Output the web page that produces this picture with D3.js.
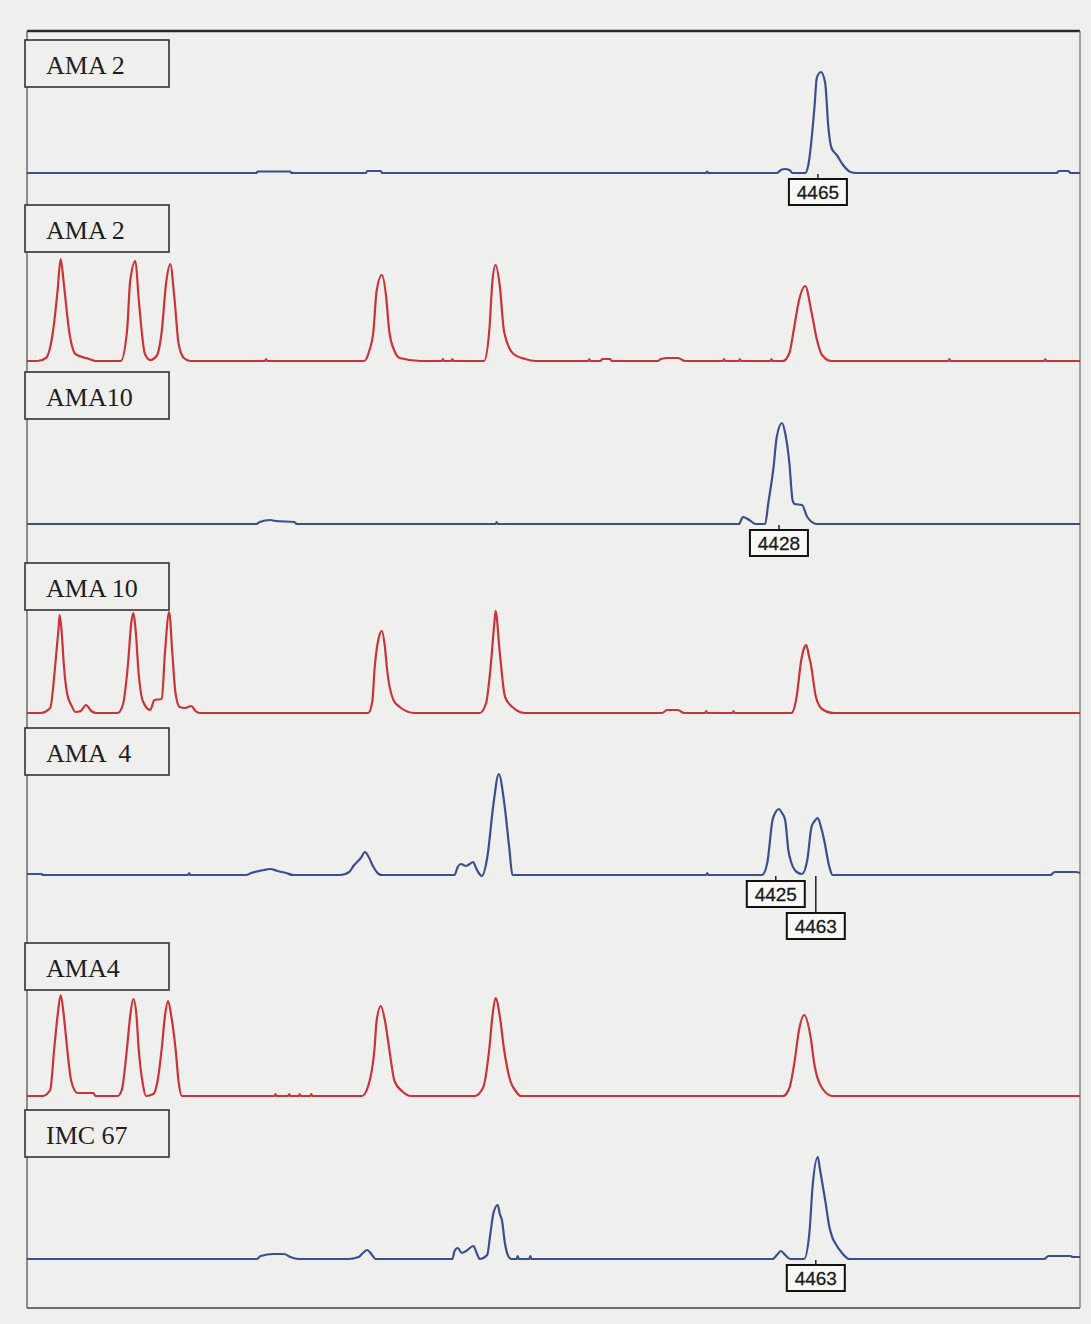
<!DOCTYPE html>
<html>
<head>
<meta charset="utf-8">
<title>Espectros MALDI</title>
<script src="https://cdn.jsdelivr.net/npm/d3@7"></script>
<style>
  html, body { margin: 0; padding: 0; background: #efefed; }
  svg { display: block; }
</style>
</head>
<body>
<svg id="grafico" width="1091" height="1324"></svg>
<script>
/* DATOS: masa (Da) e intensidad relativa de cada traza */
const rangoMasas = [3712, 4712]
const nombresMuestras = ["AMA 2", "AMA 2", "AMA10", "AMA 10", "AMA  4", "AMA4", "IMC 67"]
const tiposTraza = ["muestra", "marcador", "muestra", "marcador", "muestra", "marcador", "muestra"]

const trazaAMA2 = [[3712,0],[3930,0],[3931,1.5],[3962,1.5],[3963,0],[4034,0],[4035,2],[4048,2],[4049,0],
  [4357,0],[4358,1.5],[4359,0],[4424,0],[4428,3],[4432,4],[4436,3],[4439,0],[4451,0],[4454,8],[4460,68],
  [4462,95],[4466,101],[4470,90],[4473,46],[4476,25],[4481,18],[4487,8],[4494,1],[4500,0],
  [4690,0],[4692,2],[4701,2],[4703,0],[4712,0]]

const marcadorAMA2 = [[3712,0],[3722,0],[3730,3],[3737,32],[3741,70],[3744,102],[3747,77],[3752,30],[3758,7],[3771,2],[3777,0],
  [3801,0],[3807,30],[3810,80],[3815,100],[3818,63],[3824,7],[3829,1],
  [3835,5],[3840,30],[3844,77],[3848,97],[3852,63],[3856,17],[3861,3],[3867,0],
  [3938,0],[3939,2],[3940,0],
  [4032,0],[4037,10],[4041,30],[4044,70],[4049,86],[4053,65],[4056,30],[4061,10],[4066,3],[4086,0],
  [4106,0],[4107,2],[4108,0],[4115,0],[4116,2],[4117,0],
  [4146,0],[4151,30],[4154,80],[4157,96],[4161,75],[4165,30],[4174,7],[4185,2],[4195,0],
  [4245,0],[4246,2],[4247,0],[4257,0],[4258,2],[4266,2],[4267,0],
  [4311,0],[4314,2],[4321,3],[4330,3],[4337,0],
  [4373,0],[4374,2],[4375,0],[4388,0],[4389,2],[4390,0],[4418,0],[4419,2],[4420,0],
  [4430,0],[4436,8],[4440,30],[4445,60],[4451,75],[4457,49],[4462,22],[4467,6],[4476,0],
  [4587,0],[4588,2],[4589,0],[4678,0],[4679,2],[4680,0],[4712,0]]

const trazaAMA10 = [[3712,0],[3930,0],[3933,2],[3943,4],[3948,3],[3966,2],[3968,0],[4157,0],[4158,2],[4159,0],
  [4388,0],[4392,7],[4398,4],[4404,0],[4413,0],[4416,21],[4421,57],[4424,87],[4429,101],[4432,91],[4436,61],
  [4439,24],[4441,20],[4448,19],[4453,7],[4462,0],[4712,0]]

const marcadorAMA10 = [[3712,0],[3725,0],[3734,5],[3739,50],[3742,85],[3743,98],[3745,80],[3747,48],[3750,20],[3754,8],[3758,1],
  [3763,2],[3768,8],[3773,2],[3778,0],
  [3798,0],[3803,8],[3808,50],[3811,90],[3813,100],[3815,85],[3818,40],[3822,12],[3829,3],[3833,13],[3840,14],
  [3843,60],[3847,101],[3850,60],[3853,20],[3857,6],[3862,5],[3868,7],[3872,2],[3876,0],
  [4036,0],[4040,12],[4042,43],[4046,75],[4049,82],[4052,65],[4054,43],[4060,13],[4066,6],[4080,0],
  [4142,0],[4148,10],[4152,43],[4156,92],[4157,102],[4161,60],[4166,16],[4173,6],[4185,0],
  [4315,0],[4320,3],[4330,3],[4336,0],[4356,0],[4357,2],[4358,0],[4382,0],[4383,2],[4384,0],
  [4438,0],[4443,17],[4447,51],[4450,65],[4452,68],[4455,55],[4456,51],[4461,17],[4467,4],[4478,0],[4712,0]]

const trazaAMA4 = [[3712,1],[3726,1],[3727,0],[3865,0],[3866,2],[3867,0],
  [3920,0],[3925,2],[3937,5],[3943,6],[3950,4],[3958,2],[3965,0],
  [4010,0],[4018,3],[4022,9],[4029,17],[4033,23],[4036,19],[4041,8],[4046,1],[4049,0],
  [4118,0],[4121,8],[4124,11],[4129,9],[4131,10],[4136,13],[4138,8],[4141,2],[4144,-1],
  [4149,17],[4155,71],[4160,101],[4165,74],[4170,27],[4173,0],
  [4357,0],[4358,2],[4359,0],
  [4410,0],[4415,12],[4420,55],[4423,63],[4426,66],[4429,62],[4432,55],[4435,25],[4438,12],[4443,3],[4448,1],
  [4453,15],[4457,48],[4460,54],[4463,57],[4466,48],[4469,35],[4474,8],[4477,0],
  [4684,0],[4688,3],[4708,3],[4712,2]]

const marcadorAMA4 = [[3712,0],[3727,0],[3734,6],[3738,49],[3741,80],[3744,101],[3747,80],[3750,49],[3754,15],[3760,3],[3764,3],[3775,3],[3777,0],
  [3798,0],[3802,6],[3807,48],[3810,80],[3813,97],[3816,80],[3818,48],[3822,12],[3825,0],
  [3832,2],[3836,15],[3840,48],[3843,80],[3846,95],[3849,80],[3853,48],[3856,14],[3859,0],
  [3947,0],[3948,2],[3949,0],[3960,0],[3961,2],[3962,0],[3970,0],[3971,2],[3972,0],[3981,0],[3982,2],[3983,0],
  [4030,0],[4036,10],[4042,47],[4044,75],[4048,90],[4052,75],[4056,47],[4061,15],[4068,5],[4077,0],
  [4137,0],[4145,8],[4151,47],[4154,80],[4157,98],[4161,80],[4165,47],[4171,15],[4176,5],[4181,0],
  [4430,0],[4436,8],[4441,35],[4445,65],[4450,81],[4456,60],[4460,30],[4467,8],[4477,0],[4712,0]]

const trazaIMC67 = [[3712,0],[3930,0],[3934,3],[3946,5],[3956,5],[3962,2],[3970,0],
  [4017,0],[4027,2],[4031,6],[4035,9],[4039,5],[4043,0],
  [4116,0],[4118,8],[4121,11],[4125,6],[4129,8],[4136,13],[4139,6],[4142,0],
  [4149,4],[4152,25],[4155,46],[4159,54],[4161,45],[4163,39],[4166,15],[4169,3],[4172,0],
  [4177,0],[4178,3],[4179,0],[4189,0],[4190,3],[4191,0],
  [4420,0],[4425,5],[4428,8],[4432,4],[4437,0],
  [4450,0],[4455,26],[4458,72],[4463,102],[4465,90],[4470,59],[4474,32],[4477,21],[4480,15],[4486,6],[4493,0],
  [4678,0],[4682,3],[4703,3],[4705,2],[4712,2]]

const trazas = [trazaAMA2, marcadorAMA2, trazaAMA10, marcadorAMA10, trazaAMA4, marcadorAMA4, trazaIMC67]

/* etiquetas de picos */
const etiquetasPanel = [0, 2, 4, 4, 6]
const etiquetasMasa = [4465, 4428, 4425, 4463, 4463]
const etiquetasNivel = [0, 0, 0, 1, 0]

/* DISPOSICION */
const marco = { izq: 27, der: 1080, arriba: 31, abajo: 1308 }
const lineasBase = [173, 361, 524, 713, 875, 1096, 1259]
const cajasArriba = [40, 205, 372, 563, 728, 943, 1110]
const colores = { muestra: "#3b4f8e", marcador: "#c8343a" }

let svg = d3.select("#grafico")

svg.append("rect").attr("width", 1091).attr("height", 1324).attr("fill", "#efefed")

let x = d3.scaleLinear().domain(rangoMasas).range([marco.izq, marco.der])

/* marco exterior */
svg.append("line").attr("x1", marco.izq).attr("x2", marco.der).attr("y1", marco.arriba).attr("y2", marco.arriba)
  .attr("stroke", "#2a2a2a").attr("stroke-width", 2.5)
svg.append("line").attr("x1", marco.izq).attr("x2", marco.der).attr("y1", marco.abajo).attr("y2", marco.abajo)
  .attr("stroke", "#444").attr("stroke-width", 1.5)
svg.append("line").attr("x1", marco.izq).attr("x2", marco.izq).attr("y1", marco.arriba).attr("y2", marco.abajo)
  .attr("stroke", "#555").attr("stroke-width", 1.3)
svg.append("line").attr("x1", marco.der).attr("x2", marco.der).attr("y1", marco.arriba).attr("y2", marco.abajo)
  .attr("stroke", "#777").attr("stroke-width", 1.3)

let escalasY = lineasBase.map(b => d3.scaleLinear().domain([0, 100]).range([b, b - 100]))

/* trazas */
trazas.forEach((traza, i) => {
  let linea = d3.line()
    .x(d => x(d[0]))
    .y(d => escalasY[i](d[1]))
    .curve(d3.curveMonotoneX)

  svg.append("path")
    .datum(traza)
    .attr("d", linea)
    .attr("fill", "none")
    .attr("stroke", colores[tiposTraza[i]])
    .attr("stroke-width", 2.2)
    .attr("stroke-linejoin", "round")
})

/* cajas con el nombre de la muestra */
nombresMuestras.forEach((nombre, i) => {
  let g = svg.append("g").attr("transform", `translate(25,${cajasArriba[i]})`)
  g.append("rect").attr("width", 144).attr("height", 47)
    .attr("fill", "#efefed").attr("stroke", "#333").attr("stroke-width", 1.6)
  g.append("text").attr("x", 21).attr("y", 34)
    .attr("font-family", "'Liberation Serif', 'Times New Roman', serif")
    .attr("font-size", 26).attr("fill", "#1e1e1e")
    .style("white-space", "pre")
    .text(nombre)
})

/* etiquetas de masa de los picos */
etiquetasMasa.forEach((masa, i) => {
  let p = etiquetasPanel[i]
  let base = lineasBase[p]
  let cx = x(masa) - 2
  let arriba = base + 6 + etiquetasNivel[i] * 32
  svg.append("line").attr("x1", cx).attr("x2", cx).attr("y1", base + 1).attr("y2", arriba)
    .attr("stroke", "#222").attr("stroke-width", 1.5)
  svg.append("rect").attr("x", cx - 29).attr("y", arriba).attr("width", 58).attr("height", 26)
    .attr("fill", "#f8f8f6").attr("stroke", "#111").attr("stroke-width", 2)
  svg.append("text").attr("x", cx).attr("y", arriba + 20)
    .attr("text-anchor", "middle")
    .attr("font-family", "'Liberation Sans', Arial, sans-serif")
    .attr("font-size", 19).attr("fill", "#1a1a1a")
    .attr("stroke", "#1a1a1a").attr("stroke-width", 0.3)
    .text(masa)
})
</script>
</body>
</html>
